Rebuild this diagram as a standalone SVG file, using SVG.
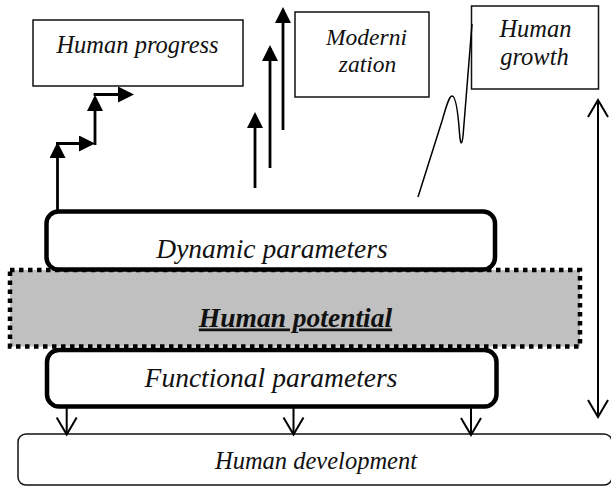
<svg xmlns="http://www.w3.org/2000/svg" width="611" height="486" viewBox="0 0 611 486">
  <style>
    .lbl { font-family: "Liberation Serif", "Times New Roman", serif; font-style: italic; fill: #111; text-anchor: middle; }
    .box { fill: #fff; stroke: #111; stroke-width: 1.5; }
    .param { fill: #fff; stroke: #000; stroke-width: 4.5; }
    .pot { fill: #c0c0c0; stroke: #000; stroke-width: 4.5; stroke-dasharray: 4.5 4.5; }
    .solid { fill: none; stroke: #000; stroke-width: 2.8; }
    .thin { fill: none; stroke: #000; stroke-width: 2; }
    .wave { fill: none; stroke: #000; stroke-width: 1.5; }
  </style>
  <defs>
    <marker id="tri" markerUnits="userSpaceOnUse" viewBox="0 0 16 16" refX="13" refY="8" markerWidth="16" markerHeight="16" orient="auto">
      <path d="M0,0 L16,8 L0,16 Z" fill="#000"/>
    </marker>
    <marker id="vee" markerUnits="userSpaceOnUse" viewBox="-20 -12 22 24" refX="0" refY="0" markerWidth="22" markerHeight="24" orient="auto-start-reverse" overflow="visible">
      <path d="M-17,-10 L0,0 L-17,10" fill="none" stroke="#000" stroke-width="2"/>
    </marker>
  </defs>

  <!-- Outcome boxes along the top -->
  <g id="human-progress">
    <rect class="box" x="33" y="20" width="210" height="66"/>
    <text class="lbl" x="137.5" y="53" font-size="24.5">Human progress</text>
  </g>
  <g id="modernization">
    <rect class="box" x="295" y="12" width="134" height="85"/>
    <text class="lbl" x="366.5" y="45" font-size="23.5">Moderni</text>
    <text class="lbl" x="367.5" y="72" font-size="23.5">zation</text>
  </g>
  <g id="human-growth">
    <rect class="box" x="471.5" y="6" width="127" height="83"/>
    <text class="lbl" x="535.5" y="37" font-size="24.5">Human</text>
    <text class="lbl" x="534.5" y="65" font-size="24.5">growth</text>
  </g>

  <!-- Central layers -->
  <g id="human-potential">
    <rect class="pot" x="10" y="270" width="570" height="76.5"/>
    <text class="lbl" x="295.5" y="326.5" font-size="27.5" font-weight="bold" text-decoration="underline">Human potential</text>
  </g>
  <g id="dynamic-parameters">
    <rect class="param" x="46.5" y="211.5" width="448.5" height="58" rx="12"/>
    <text class="lbl" x="272" y="258" font-size="27.5">Dynamic parameters</text>
  </g>
  <g id="functional-parameters">
    <rect class="param" x="47" y="350" width="449.5" height="56.5" rx="12"/>
    <text class="lbl" x="271" y="386.5" font-size="27.5">Functional parameters</text>
  </g>
  <g id="human-development">
    <rect class="box" x="18" y="434" width="594" height="51" rx="8"/>
    <text class="lbl" x="316" y="469" font-size="24.5">Human development</text>
  </g>

  <!-- Connectors -->
  <g id="connectors">
    <!-- stepped path towards progress -->
    <line class="solid" x1="57.5" y1="212" x2="57.5" y2="145" marker-end="url(#tri)"/>
    <line class="solid" x1="56" y1="143.5" x2="92" y2="143.5" marker-end="url(#tri)"/>
    <line class="solid" x1="95" y1="145" x2="95" y2="98" marker-end="url(#tri)"/>
    <line class="solid" x1="93.6" y1="94.5" x2="131" y2="94.5" marker-end="url(#tri)"/>
    <!-- rising arrows towards modernization -->
    <line class="solid" x1="255" y1="188" x2="255" y2="115" marker-end="url(#tri)"/>
    <line class="solid" x1="270" y1="168" x2="270" y2="48" marker-end="url(#tri)"/>
    <line class="solid" x1="283" y1="130" x2="283" y2="10" marker-end="url(#tri)"/>
    <!-- fluctuating growth curve -->
    <path class="wave" d="M418,197 L442,121 C446,107 449,96 452,96 C456,96 458,112 459.5,133 C460.5,147 462.5,146 463.5,130 L472,24"/>
    <!-- overall span -->
    <line class="thin" x1="598" y1="100" x2="598" y2="417" marker-start="url(#vee)" marker-end="url(#vee)"/>
    <!-- functional parameters feeding development -->
    <line class="thin" x1="66.7" y1="408" x2="66.7" y2="434.5" marker-end="url(#vee)"/>
    <line class="thin" x1="293.5" y1="408" x2="293.5" y2="434.5" marker-end="url(#vee)"/>
    <line class="thin" x1="471" y1="408" x2="471" y2="435" marker-end="url(#vee)"/>
  </g>
</svg>
